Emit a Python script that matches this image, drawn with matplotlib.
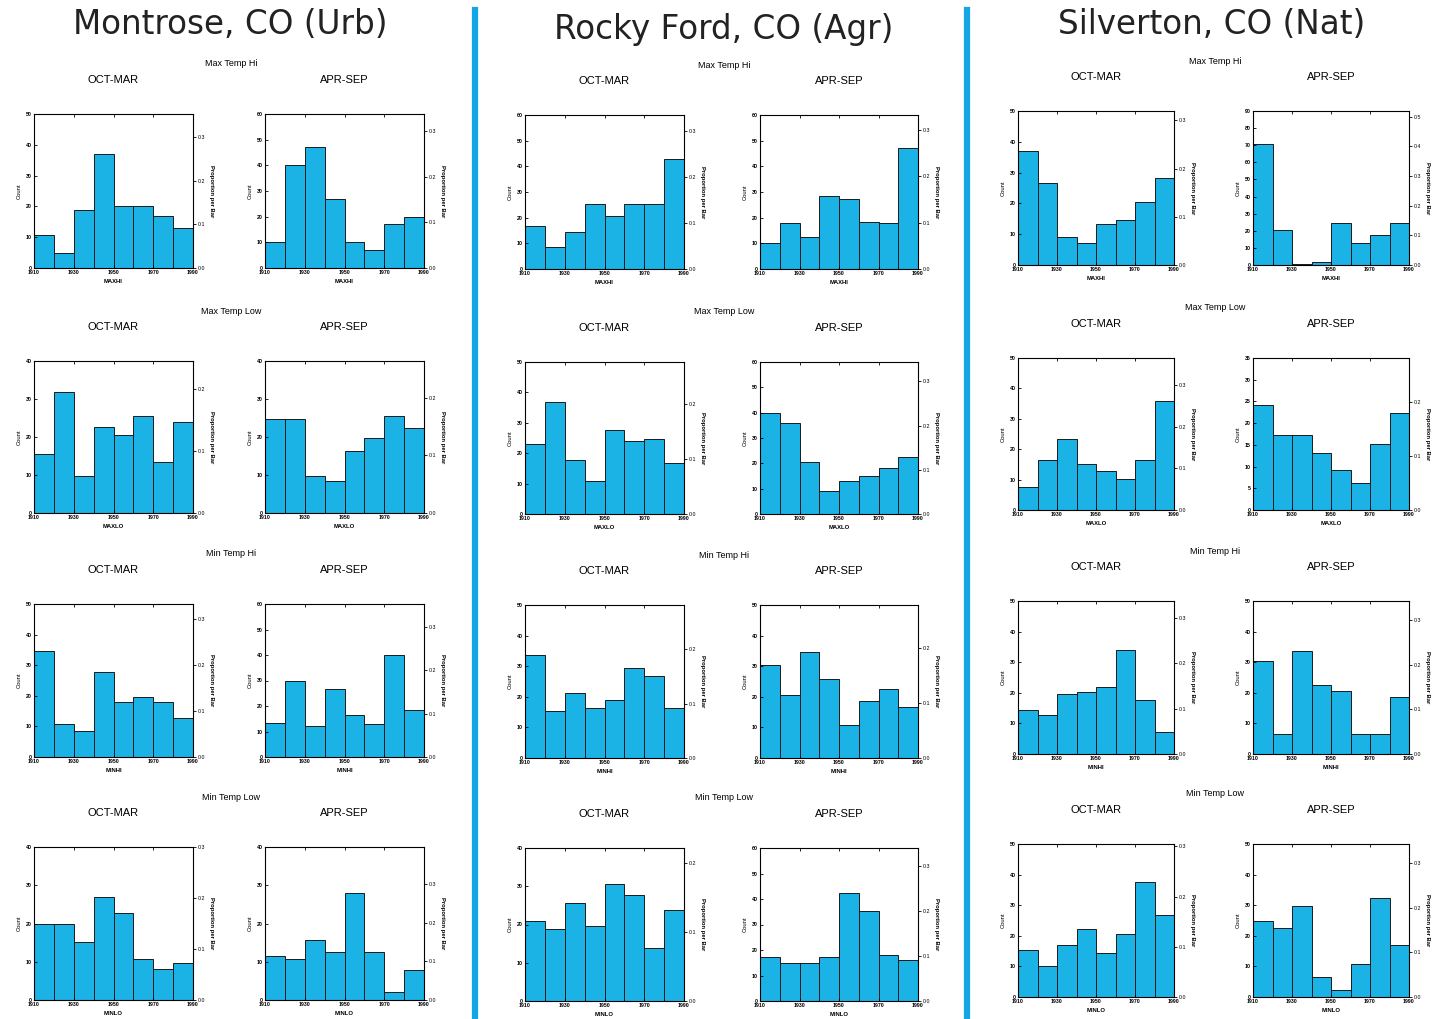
import matplotlib
matplotlib.use("Agg")
import matplotlib.pyplot as plt
from matplotlib.ticker import MultipleLocator, FormatStrFormatter

plt.rcParams['font.family'] = ['Liberation Sans', 'DejaVu Sans']

# ---------------- data ----------------
stations = ["Montrose, CO (Urb)", "Rocky Ford, CO (Agr)", "Silverton, CO (Nat)"]
row_titles = ["Max Temp Hi", "Max Temp Low", "Min Temp Hi", "Min Temp Low"]
row_xlabels = ["MAXHI", "MAXLO", "MINHI", "MINLO"]
seasons = ["OCT-MAR", "APR-SEP"]
bin_edges = [1910, 1920, 1930, 1940, 1950, 1960, 1970, 1980, 1990]
xtick_vals = [1910, 1930, 1950, 1970, 1990]

# counts per decade bin, [station][row][season]
montrose_maxhi_oct = [10.7, 4.8, 18.8, 37, 20, 20, 17, 13]
montrose_maxhi_apr = [10, 40, 47, 27, 10, 7, 17, 20]
montrose_maxlo_oct = [15.6, 31.8, 9.8, 22.6, 20.6, 25.6, 13.4, 24]
montrose_maxlo_apr = [24.7, 24.7, 9.8, 8.5, 16.4, 19.7, 25.6, 22.5]
montrose_minhi_oct = [34.8, 10.8, 8.5, 27.8, 17.9, 19.7, 17.9, 12.7]
montrose_minhi_apr = [13.5, 29.9, 12.3, 26.6, 16.5, 12.9, 40.1, 18.4]
montrose_minlo_oct = [19.9, 19.9, 15.2, 26.8, 22.8, 10.8, 8.2, 9.7]
montrose_minlo_apr = [11.6, 10.6, 15.6, 12.6, 27.9, 12.6, 2.2, 7.8]

rocky_maxhi_oct = [16.6, 8.5, 14.6, 25.4, 20.5, 25.4, 25.4, 43]
rocky_maxhi_apr = [10.2, 17.9, 12.6, 28.4, 27.4, 18.5, 18, 47.2]
rocky_maxlo_oct = [22.9, 37, 17.8, 10.7, 27.7, 24, 24.7, 16.7]
rocky_maxlo_apr = [40, 36.1, 20.5, 8.9, 13, 15, 18.3, 22.6]
rocky_minhi_oct = [33.7, 15.2, 21.4, 16.2, 19, 29.3, 26.7, 16.2]
rocky_minhi_apr = [30.4, 20.5, 34.6, 25.8, 10.8, 18.7, 22.7, 16.8]
rocky_minlo_oct = [20.8, 18.9, 25.7, 19.5, 30.7, 27.8, 13.9, 23.7]
rocky_minlo_apr = [17.1, 14.9, 14.9, 17.1, 42.5, 35.2, 18.1, 16.2]

silver_maxhi_oct = [37, 26.6, 9, 7.3, 13.4, 14.5, 20.4, 28.3]
silver_maxhi_apr = [70.9, 20.5, 0.6, 2, 24.4, 12.7, 17.8, 24.4]
silver_maxlo_oct = [7.5, 16.3, 23.3, 15.2, 12.9, 10.1, 16.3, 35.7]
silver_maxlo_apr = [24.2, 17.2, 17.2, 13.2, 9.2, 6.2, 15.1, 22.4]
silver_minhi_oct = [14.3, 12.6, 19.7, 20.4, 22, 34, 17.7, 7.3]
silver_minhi_apr = [30.5, 6.6, 33.7, 22.6, 20.7, 6.6, 6.6, 18.6]
silver_minlo_oct = [15.4, 10.1, 17, 22.3, 14.3, 20.5, 37.6, 26.9]
silver_minlo_apr = [24.8, 22.4, 29.8, 6.6, 2.2, 10.7, 32.5, 16.9]

# y-axis maxima (Count) for each panel
montrose_ymax = [[50, 60], [40, 40], [50, 60], [40, 40]]
rocky_ymax = [[60, 60], [50, 60], [50, 50], [40, 60]]
silver_ymax = [[50, 90], [50, 35], [50, 50], [50, 50]]

data = [
    [[montrose_maxhi_oct, montrose_maxhi_apr], [montrose_maxlo_oct, montrose_maxlo_apr],
     [montrose_minhi_oct, montrose_minhi_apr], [montrose_minlo_oct, montrose_minlo_apr]],
    [[rocky_maxhi_oct, rocky_maxhi_apr], [rocky_maxlo_oct, rocky_maxlo_apr],
     [rocky_minhi_oct, rocky_minhi_apr], [rocky_minlo_oct, rocky_minlo_apr]],
    [[silver_maxhi_oct, silver_maxhi_apr], [silver_maxlo_oct, silver_maxlo_apr],
     [silver_minhi_oct, silver_minhi_apr], [silver_minlo_oct, silver_minlo_apr]],
]
ymaxes = [montrose_ymax, rocky_ymax, silver_ymax]

# ---------------- layout (pixels) ----------------
W, H = 1451, 1019
fig = plt.figure(figsize=(W / 100, H / 100), dpi=100)
fig.patch.set_facecolor("white")

BAR = "#1BB3E6"
SEP = "#14A6E4"

col_panels = [[(34, 193), (265, 424)], [(525, 684), (760, 918)], [(1018, 1174), (1253, 1409)]]
row_tb = [(114, 268), (361, 513), (604, 757), (847, 1000)]
col_dy = [0, 1, -3]
col_title_xy = [(230, 25), (724, 30), (1212, 25)]


def px_axes(l, t, r, b):
    return fig.add_axes([l / W, 1 - b / H, (r - l) / W, (b - t) / H])


def ftext(x, y, s, **kw):
    fig.text(x / W, 1 - y / H, s, ha="center", va="center", **kw)


for c in range(3):
    cx, cy = col_title_xy[c]
    ftext(cx, cy, stations[c], fontsize=23.5, family=["DejaVu Sans"], color="#222222")
    for r in range(4):
        t, b = row_tb[r]
        t += col_dy[c]
        b += col_dy[c]
        (l0, r0), (l1, r1) = col_panels[c]
        ftext((r0 + l1) / 2 + 2, t - 50, row_titles[r], fontsize=6.5)
        for s in range(2):
            l, rr = col_panels[c][s]
            ax = px_axes(l, t, rr, b)
            vals = data[c][r][s]
            ymax = ymaxes[c][r][s]
            ax.bar(bin_edges[:-1], vals, width=[bin_edges[i + 1] - bin_edges[i] for i in range(8)],
                   align="edge", color=BAR, edgecolor="#1a1a1a", linewidth=0.7)
            ax.set_xlim(bin_edges[0], bin_edges[-1])
            ax.set_ylim(0, ymax)
            ax.set_xticks(xtick_vals)
            ax.yaxis.set_major_locator(MultipleLocator(5 if ymax <= 35 else 10))
            ax.tick_params(axis="both", labelsize=3.8, length=2.5, width=0.6, pad=1.5)
            ax.tick_params(axis="y", direction="in")
            ax.tick_params(axis="x", direction="in", top=True)
            for lab in ax.get_xticklabels() + ax.get_yticklabels():
                lab.set_fontweight("bold")
            ax.set_xlabel(row_xlabels[r], fontsize=4.2, fontweight="bold", labelpad=3)
            ax.set_ylabel("Count", fontsize=4.2, labelpad=3)
            for sp in ax.spines.values():
                sp.set_linewidth(0.7)
            ax.set_title(seasons[s], fontsize=8, pad=22)
            tw = ax.twinx()
            tot = sum(vals)
            tw.set_ylim(0, ymax / tot)
            tw.yaxis.set_major_locator(MultipleLocator(0.1))
            tw.yaxis.set_major_formatter(FormatStrFormatter("%.1f"))
            tw.tick_params(axis="y", labelsize=3.8, length=2.5, width=0.6, pad=1, direction="out")
            tw.set_ylabel("Proportion per Bar", fontsize=4.2, fontweight="bold", rotation=270, labelpad=6)

# separators
for x in (475, 967):
    fig.add_artist(plt.Line2D([x / W, x / W], [0, 1 - 10 / H], color=SEP, linewidth=4.5))

fig.savefig("out.png", dpi=100, facecolor="white")
